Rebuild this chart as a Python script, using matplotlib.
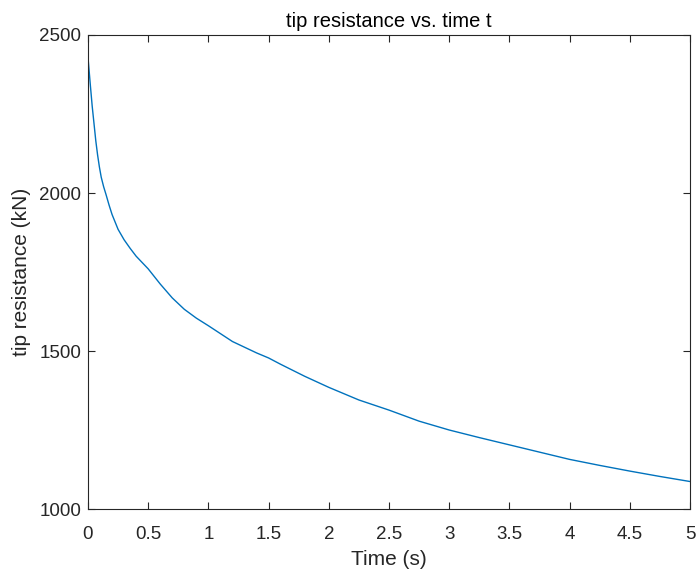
import matplotlib
matplotlib.use("Agg")
import matplotlib.pyplot as plt

# values
time_s = [0, 0.01, 0.02, 0.035, 0.05, 0.065, 0.08, 0.095, 0.11, 0.13, 0.15, 0.175, 0.2,
          0.25, 0.3, 0.35, 0.4, 0.5, 0.6, 0.7, 0.8, 0.9,
          1.0, 1.2, 1.4, 1.5, 1.6, 1.8, 2.0, 2.25, 2.5, 2.75, 3.0, 3.25, 3.5, 3.75,
          4.0, 4.25, 4.5, 4.75, 5.0]
tip_kn = [2430, 2385, 2340, 2275, 2220, 2165, 2120, 2082, 2050, 2020, 1995, 1962, 1932,
          1885, 1852, 1825, 1800, 1760, 1712, 1668, 1632, 1604,
          1580, 1530, 1494, 1478, 1458, 1420, 1385, 1345, 1313, 1278, 1250, 1226, 1203, 1180,
          1157, 1138, 1120, 1103, 1087]

x_ticks = [0, 0.5, 1, 1.5, 2, 2.5, 3, 3.5, 4, 4.5, 5]
x_labels = ["0", "0.5", "1", "1.5", "2", "2.5", "3", "3.5", "4", "4.5", "5"]
y_ticks = [1000, 1500, 2000, 2500]

plt.rcParams["font.family"] = ["Liberation Sans", "DejaVu Sans"]
axis_color = "#262626"

fig = plt.figure(figsize=(6.96, 5.70), dpi=100)
ax = fig.add_axes([0.1264, 0.107, 0.865, 0.8316])

ax.plot(time_s, tip_kn, color="#0072BD", linewidth=1.0)

ax.set_xlim(0, 5)
ax.set_ylim(1000, 2500)
ax.set_xticks(x_ticks)
ax.set_xticklabels(x_labels)
ax.set_yticks(y_ticks)

ax.tick_params(direction="in", length=5, width=0.8, top=True, right=True,
               labelsize=13.5, colors=axis_color, pad=5)
ax.tick_params(axis="x", pad=12)
for s in ax.spines.values():
    s.set_color(axis_color)
    s.set_linewidth(0.8)

ax.set_title("tip resistance vs. time t", fontsize=14.5, color="black", pad=6)
ax.set_xlabel("Time (s)", fontsize=15, color=axis_color, labelpad=5)
ax.set_ylabel("tip resistance (kN)", fontsize=15, color=axis_color, labelpad=6)

fig.savefig("out.png", dpi=100)
